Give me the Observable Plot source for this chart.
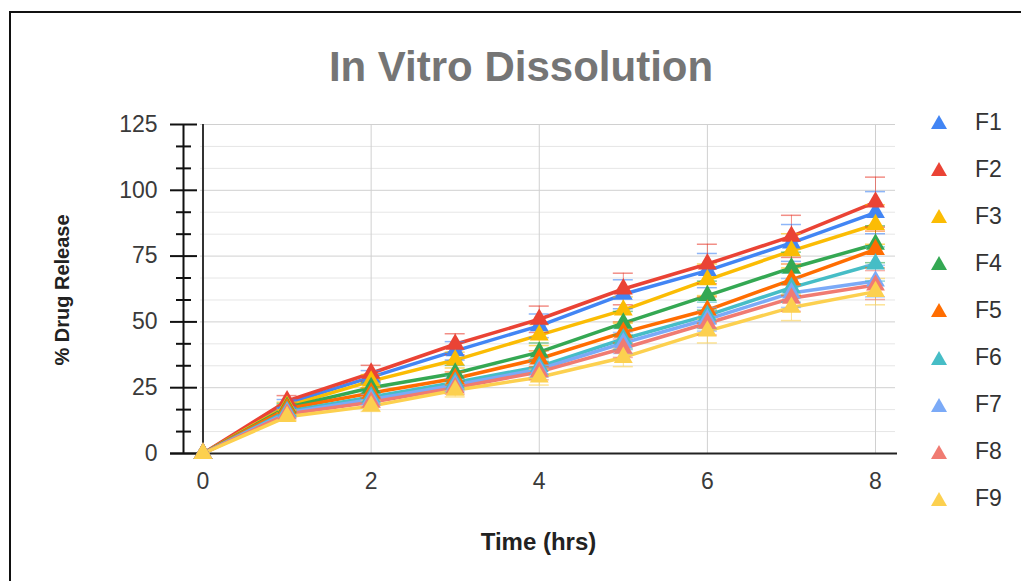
<!DOCTYPE html>
<html><head><meta charset="utf-8">
<script src="https://cdn.jsdelivr.net/npm/d3@7"></script>
<script src="https://cdn.jsdelivr.net/npm/@observablehq/plot@0.6"></script>
<style>
body{margin:0;background:#fff;overflow:hidden}
#wrap{position:relative;width:1021px;height:581px;overflow:hidden;font-family:"Liberation Sans",Arial,sans-serif;background:#fff}
#border{position:absolute;left:9px;top:11px;width:2000px;height:2000px;border-left:2px solid #111;border-top:2px solid #111;box-sizing:border-box}
#chart{position:absolute;left:0;top:0}
#title{position:absolute;left:0;width:1042px;top:46px;text-align:center;font-size:42px;line-height:1;font-weight:bold;color:#757575;white-space:nowrap}
#xtitle{position:absolute;left:0;width:1077px;top:530px;text-align:center;font-size:24px;line-height:1;font-weight:bold;color:#222;white-space:nowrap}
#ytitle{position:absolute;left:62px;top:290px;transform:translate(-50%,-50%) rotate(-90deg);font-size:20px;line-height:1;font-weight:bold;color:#222;white-space:nowrap}
#legend{position:absolute;left:930px;top:98.5px}
.li{height:47.1px;display:flex;align-items:center;font-size:23px;color:#333}
.li svg{margin-right:27px}
</style>
</head><body>
<div id="wrap">
  <div id="chart"></div>
  <div id="border"></div>
  <div id="title">In Vitro Dissolution</div>
  <div id="xtitle">Time (hrs)</div>
  <div id="ytitle">% Drug Release</div>
  <div id="legend"></div>
</div>
<script>
// ---- data ----
const time = [0, 1, 2, 3, 4, 5, 6, 7, 8];
const seriesNames = ["F1", "F2", "F3", "F4", "F5", "F6", "F7", "F8", "F9"];
const colors = ["#4285F4", "#EA4335", "#FBBC04", "#34A853", "#FF6D01", "#46BDC6", "#7BAAF7", "#F07B72", "#FCD04F"];

const F1 = [0, 19, 29, 39, 48.5, 60.5, 69.5, 80, 91.5];
const F2 = [0, 20, 30.5, 41.5, 51, 62.5, 72, 82.5, 95.5];
const F3 = [0, 18, 27.5, 35.5, 45, 54.5, 66, 77, 87];
const F4 = [0, 17.5, 25, 30.5, 38.5, 49.5, 60, 70.5, 79.5];
const F5 = [0, 17, 23, 28.5, 36, 46, 54.5, 66, 77.5];
const F6 = [0, 16, 21.5, 27, 33, 43.5, 52.5, 63, 72];
const F7 = [0, 15.5, 20.5, 26, 32, 42, 51, 61, 65.5];
const F8 = [0, 15, 19.5, 25, 31, 40, 49.5, 59, 64];
const F9 = [0, 14, 18, 24, 29, 36.5, 46.5, 55.5, 61.5];

const F1err = [0, 1.5, 2.5, 3.5, 4.5, 5.5, 6.5, 7, 8];
const F2err = [0, 2, 3, 4, 5, 6, 7.5, 8, 9.5];
const F3err = [0, 1.5, 2.5, 3, 4, 5, 6, 6.5, 7.5];
const F4err = [0, 1.5, 2, 3, 3.5, 4.5, 5.5, 6, 7];
const F5err = [0, 1.5, 2, 2.5, 3, 4, 5, 6, 7];
const F6err = [0, 1.5, 2, 2.5, 3, 4, 5, 5.5, 6.5];
const F7err = [0, 1.5, 2, 2.5, 3, 4, 4.5, 5.5, 6];
const F8err = [0, 1.5, 2, 2.5, 3, 3.5, 4.5, 5, 5.5];
const F9err = [0, 1.5, 2, 2.5, 3, 3.5, 4.5, 5, 5];

const xTicks = [0, 2, 4, 6, 8];
const yMajor = [0, 25, 50, 75, 100, 125];
const yMinor = [8.33, 16.67, 33.33, 41.67, 58.33, 66.67, 83.33, 91.67, 108.33, 116.67];

// ---- build table ----
const values = [F1, F2, F3, F4, F5, F6, F7, F8, F9];
const errs = [F1err, F2err, F3err, F4err, F5err, F6err, F7err, F8err, F9err];
const rows = seriesNames.flatMap((s, i) => time.map((t, j) => ({series: s, time: t, value: values[i][j], err: errs[i][j]})));
const errRows = rows.filter(d => d.err > 0);

const chart = Plot.plot({
  width: 1021, height: 581,
  marginLeft: 200, marginRight: 126, marginTop: 124, marginBottom: 128,
  x: {domain: [0, 8], range: [202.5, 875]},
  y: {domain: [0, 125]},
  color: {domain: seriesNames, range: colors},
  style: {fontFamily: '"Liberation Sans", Arial, sans-serif', background: "transparent", overflow: "visible"},
  marks: [
    Plot.ruleY(yMinor, {stroke: "#e6e6e6", strokeWidth: 1}),
    Plot.ruleY(yMajor.filter(d => d > 0), {stroke: "#d0d0d0", strokeWidth: 1}),
    Plot.ruleX(xTicks.filter(d => d > 0), {stroke: "#d0d0d0", strokeWidth: 1}),
    Plot.ruleX([0], {stroke: "#333", strokeWidth: 2}),
    Plot.ruleX([0], {dx: -19.5, stroke: "#111", strokeWidth: 2}),
    Plot.ruleY([0], {insetLeft: -30, insetRight: -2, stroke: "#222", strokeWidth: 2}),
    Plot.axisY(yMajor, {tickSize: 27, dx: -3, tickFormat: () => "", stroke: "#111", strokeWidth: 2, label: null}),
    Plot.axisY(yMinor, {tickSize: 15, dx: -9, tickFormat: () => "", stroke: "#111", strokeWidth: 2, label: null}),
    Plot.axisY(yMajor, {tickSize: 0, tickPadding: 43, fontSize: 23, fill: "#3a3a3a", label: null}),
    Plot.axisX(xTicks, {tickSize: 0, tickPadding: 19, fontSize: 23, fill: "#3a3a3a", label: null}),
    Plot.line(rows, {x: "time", y: "value", stroke: "series", z: "series", strokeWidth: 3.5}),
    Plot.ruleX(errRows, {x: "time", y1: d => d.value - d.err, y2: d => d.value + d.err, stroke: "series", strokeOpacity: 0.6, strokeWidth: 1}),
    Plot.ruleY(errRows, {y: d => d.value + d.err, x1: "time", x2: "time", insetLeft: -10, insetRight: -10, stroke: "series", strokeOpacity: 0.6, strokeWidth: 1.5}),
    Plot.ruleY(errRows, {y: d => d.value - d.err, x1: "time", x2: "time", insetLeft: -10, insetRight: -10, stroke: "series", strokeOpacity: 0.6, strokeWidth: 1.5}),
    Plot.dot(rows, {x: "time", y: "value", fill: "series", symbol: "triangle", r: 7, stroke: "none"})
  ]
});
document.getElementById("chart").appendChild(chart);

// ---- legend ----
const legend = document.getElementById("legend");
seriesNames.forEach((s, i) => {
  const row = document.createElement("div");
  row.className = "li";
  row.innerHTML = `<svg width="18" height="16" viewBox="0 0 18 16"><polygon points="9,1 17,15 1,15" fill="${colors[i]}"/></svg><span>${s}</span>`;
  legend.appendChild(row);
});
</script>
</body></html>
